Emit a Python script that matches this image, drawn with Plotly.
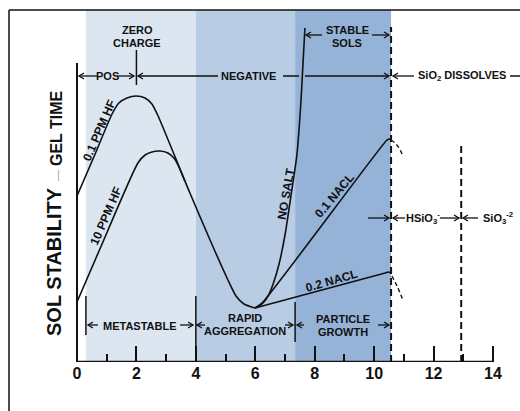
import plotly.graph_objects as go

# ---------------- data ----------------
ph_major = [0, 2, 4, 6, 8, 10, 12, 14]
ph_minor = [1, 3, 5, 7, 9, 11, 13]

zone_edges = [0.3, 4.0, 7.34, 10.57]          # metastable | rapid aggregation | particle growth
zone_colors = ["#dce6f1", "#b8cce4", "#95b3d7"]
hsio3_edge = 12.93                             # HSiO3- / SiO3-2 boundary
zero_charge_ph = 2.0

hf01_ph = [0.00, 0.61, 1.18, 1.41, 1.68, 1.99, 2.29, 2.52, 2.73, 3.80, 5.08, 5.35, 5.62, 5.99]
hf01_s = [166, 208, 248, 259, 264, 266, 264, 258, 246, 169, 82, 66, 58, 54]

hf10_ph = [0.00, 0.77, 2.05, 2.29, 2.52, 2.79, 3.06, 3.26, 3.40, 3.63]
hf10_s = [60, 113, 199, 207, 210, 211, 209, 204, 197, 181]

nosalt_ph = [5.99, 6.23, 6.43, 6.60, 6.80, 7.00, 7.20, 7.40, 7.54, 7.67]
nosalt_s = [54, 58, 66, 78, 98, 127, 166, 207, 262, 334]

nacl01_ph = [5.99, 6.26, 10.40, 10.50, 10.57]
nacl01_s = [54, 60, 221, 223, 222]
nacl01_dash_ph = [10.57, 10.70, 10.84, 10.94]
nacl01_dash_s = [222, 219, 214, 208]

nacl02_ph = [5.99, 10.37, 10.47, 10.57]
nacl02_s = [54, 89, 90, 89]
nacl02_dash_ph = [10.60, 10.77, 10.97]
nacl02_dash_s = [86, 76, 62]

# ---------------- layout helpers ----------------
W, H = 520, 411
PX0, PXU = 77.0, 29.714      # pixel of pH 0, pixels per pH unit
AXIS_PY = 362.0


def X(px):
    return (px - PX0) / PXU


def Y(py):
    return AXIS_PY - py


FONT = "Liberation Sans"
INK = "#111111"

fig = go.Figure()

line_style = dict(color=INK, width=1.6)
fig.add_trace(go.Scatter(x=hf01_ph, y=hf01_s, mode="lines",
                         line=dict(line_style, shape="spline", smoothing=0.6)))
fig.add_trace(go.Scatter(x=hf10_ph, y=hf10_s, mode="lines",
                         line=dict(line_style, shape="spline", smoothing=0.6)))
fig.add_trace(go.Scatter(x=nosalt_ph, y=nosalt_s, mode="lines",
                         line=dict(line_style, shape="spline", smoothing=0.6)))
fig.add_trace(go.Scatter(x=nacl01_ph, y=nacl01_s, mode="lines",
                         line=dict(line_style, shape="spline", smoothing=0.5)))
fig.add_trace(go.Scatter(x=nacl02_ph, y=nacl02_s, mode="lines",
                         line=dict(line_style, shape="spline", smoothing=0.5)))
fig.add_trace(go.Scatter(x=nacl01_dash_ph, y=nacl01_dash_s, mode="lines",
                         line=dict(color=INK, width=1.4, dash="4px,3px", shape="spline")))
fig.add_trace(go.Scatter(x=nacl02_dash_ph, y=nacl02_dash_s, mode="lines",
                         line=dict(color=INK, width=1.4, dash="4px,3px", shape="spline")))

shapes = []
# shaded zones
for i, col in enumerate(zone_colors):
    shapes.append(dict(type="rect", xref="x", yref="y", x0=zone_edges[i], x1=zone_edges[i + 1],
                       y0=0, y1=Y(10), fillcolor=col, line=dict(width=0), layer="below"))
# frame (top + left)
shapes.append(dict(type="line", xref="paper", yref="paper", x0=9 / W, x1=1.0,
                   y0=1 - 10 / 362, y1=1 - 10 / 362, line=dict(color=INK, width=1.5)))
shapes.append(dict(type="line", xref="paper", yref="paper", x0=9 / W, x1=9 / W,
                   y0=1 - 10 / 362, y1=-0.2, line=dict(color=INK, width=1.5)))
# axes
shapes.append(dict(type="line", xref="x", yref="y", x0=0, x1=14, y0=0, y1=0,
                   line=dict(color=INK, width=2.5)))
shapes.append(dict(type="line", xref="x", yref="y", x0=0, x1=0, y0=0, y1=Y(63),
                   line=dict(color=INK, width=2)))
# dashed boundaries
shapes.append(dict(type="line", xref="x", yref="y", x0=zone_edges[3], x1=zone_edges[3],
                   y0=0, y1=Y(27), line=dict(color=INK, width=2, dash="7px,4px")))
shapes.append(dict(type="line", xref="x", yref="y", x0=hsio3_edge, x1=hsio3_edge,
                   y0=0, y1=Y(142), line=dict(color=INK, width=2, dash="7px,4px")))
# zero charge marker
shapes.append(dict(type="line", xref="x", yref="y", x0=zero_charge_ph, x1=zero_charge_ph,
                   y0=Y(85), y1=Y(50), line=dict(color=INK, width=1.5)))
# bottom region bars
shapes.append(dict(type="line", xref="x", yref="y", x0=zone_edges[0], x1=zone_edges[0],
                   y0=Y(335), y1=Y(296), line=dict(color=INK, width=1.5)))
shapes.append(dict(type="line", xref="x", yref="y", x0=zone_edges[1], x1=zone_edges[1],
                   y0=0, y1=Y(296), line=dict(color=INK, width=1.5)))
shapes.append(dict(type="line", xref="x", yref="y", x0=zone_edges[2], x1=zone_edges[2],
                   y0=Y(342), y1=Y(302), line=dict(color=INK, width=1.5)))
# plain line segments in the NEGATIVE row
shapes.append(dict(type="line", xref="x", yref="y", x0=X(283), x1=X(299), y0=Y(76), y1=Y(76),
                   line=dict(color=INK, width=1.5)))
shapes.append(dict(type="line", xref="x", yref="y", x0=X(510), x1=X(520), y0=Y(76), y1=Y(76),
                   line=dict(color=INK, width=1.5)))


def arrow(hx, hy, tx, ty):
    """horizontal arrow drawn as a line with an open chevron head (pixel positions)"""
    shapes.append(dict(type="line", xref="x", yref="y", x0=X(tx), x1=X(hx), y0=Y(ty), y1=Y(hy),
                       line=dict(color=INK, width=1.3)))
    d = 1 if hx > tx else -1
    path = "M {:.4f},{:.2f} L {:.4f},{:.2f} L {:.4f},{:.2f}".format(
        X(hx - d * 5), Y(hy - 3), X(hx), Y(hy), X(hx - d * 5), Y(hy + 3))
    shapes.append(dict(type="path", xref="x", yref="y", path=path,
                       line=dict(color=INK, width=1.3)))


ann = []


def txt(s, px, py, size=11, angle=0, xanchor="center", color=INK, bold=True):
    ann.append(dict(x=X(px), y=Y(py), xref="x", yref="y", text=s, showarrow=False,
                    textangle=angle, xanchor=xanchor, yanchor="middle",
                    font=dict(family=FONT, size=size, color=color,
                              weight="bold" if bold else "normal")))


# top row: POS / NEGATIVE / SiO2 DISSOLVES
arrow(79, 76, 97, 76)
txt("POS", 107, 76)
arrow(134, 76, 117, 76)
arrow(138, 76, 218, 76)
txt("NEGATIVE", 248, 76)
arrow(389, 76, 305, 76)
arrow(393, 76, 414, 76)
txt("SiO<sub>2</sub> DISSOLVES", 462, 76)
txt("ZERO", 137, 30)
txt("CHARGE", 137, 43)
# stable sols
arrow(306, 35, 322, 35)
arrow(389, 35, 372, 35)
txt("STABLE", 347, 30)
txt("SOLS", 347, 43)
# bottom row
arrow(88, 325, 98, 325)
txt("METASTABLE", 140, 326)
arrow(193, 325, 180, 325)
arrow(197, 325, 205, 325)
txt("RAPID", 245, 318)
txt("AGGREGATION", 245, 331)
arrow(293, 325, 285, 325)
arrow(297, 325, 304, 325)
txt("PARTICLE", 343, 319)
txt("GROWTH", 343, 332)
arrow(389, 325, 378, 325)
# silicate species row
arrow(389, 218, 368, 218)
arrow(393, 218, 405, 218)
txt("HSiO<sub>3</sub><sup>-</sup>", 423, 218)
arrow(459, 218, 440, 218)
arrow(463, 218, 478, 218)
txt("SiO<sub>3</sub><sup>-2</sup>", 481, 218, xanchor="left")
# curve labels
txt("0.1 PPM HF", 99, 131, size=12, angle=-66.5)
txt("10 PPM HF", 106, 216, size=12, angle=-66.5)
txt("NO SALT", 286, 194, size=12, angle=-80)
txt("0.1 NACL", 334, 196, size=12, angle=-50)
txt("0.2 NACL", 331, 281, size=12, angle=-16)
# axis titles
txt("SOL STABILITY", 54, 262, size=20, angle=-90)
txt("—", 57, 176, size=11, angle=-90, color="#999999", bold=False)
txt("GEL TIME", 56, 128, size=16, angle=-90)
txt("pH", 290, 398, size=18)

fig.update_layout(
    width=W, height=H,
    margin=dict(l=0, r=0, t=0, b=49),
    paper_bgcolor="white", plot_bgcolor="white",
    showlegend=False,
    shapes=shapes, annotations=ann,
    xaxis=dict(range=[X(0), X(W)], showgrid=False, zeroline=False, showline=False,
               tickmode="array", tickvals=ph_major, ticktext=[str(v) for v in ph_major],
               ticks="inside", ticklen=16, tickwidth=1.6, tickcolor=INK,
               minor=dict(tickmode="array", tickvals=ph_minor, ticks="inside",
                          ticklen=8, tickwidth=1.6, tickcolor=INK, showgrid=False),
               tickfont=dict(family=FONT, size=16, color=INK, weight="bold"),
               fixedrange=True),
    yaxis=dict(range=[0, AXIS_PY], showgrid=False, zeroline=False, showline=False,
               showticklabels=False, ticks="", fixedrange=True),
)

fig.write_html("out.html")
